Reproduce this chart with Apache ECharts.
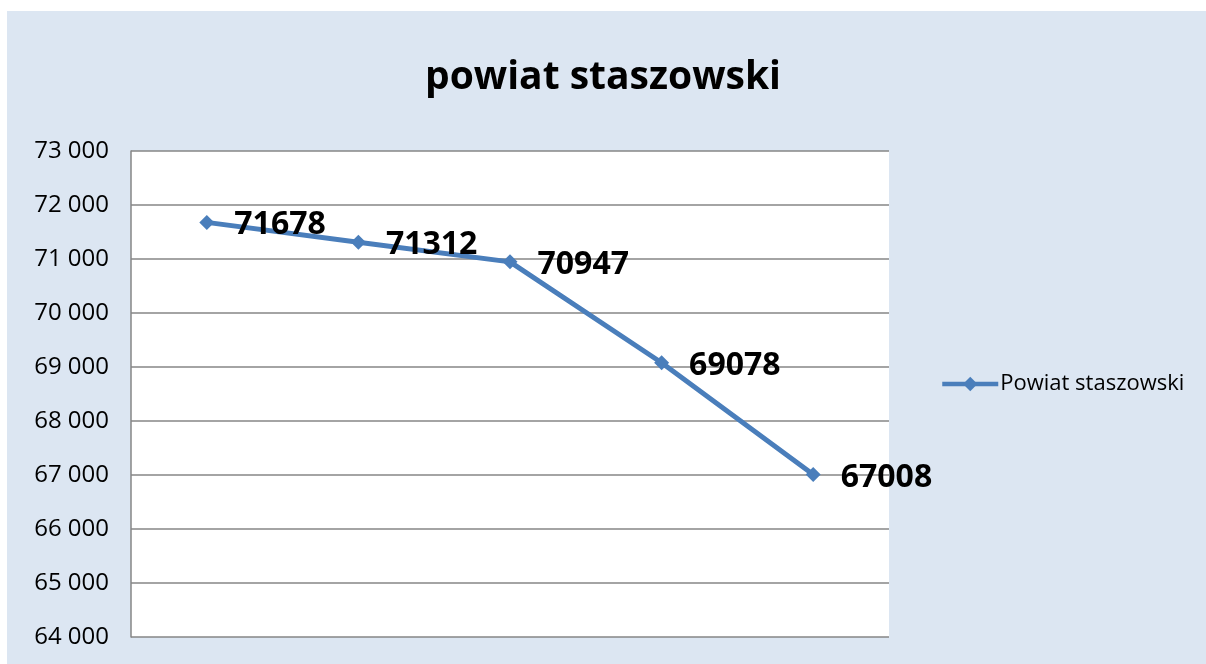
<!DOCTYPE html>
<html>
<head>
<meta charset="utf-8">
<script src="https://cdn.jsdelivr.net/npm/echarts@6/dist/echarts.min.js"></script>
<style>
  html, body { margin: 0; padding: 0; background: #fff; }
  #main { width: 1206px; height: 664px; }
</style>
</head>
<body>
<div id="main"></div>
<script>
// dane
var titleText = 'powiat staszowski';
var seriesName = 'Powiat staszowski';
var categories = ['1', '2', '3', '4', '5'];
var values = [71678, 71312, 70947, 69078, 67008];
var yMin = 64000, yMax = 73000, yStep = 1000;

var FONT = '"Open Sans", "Noto Sans", sans-serif';

var myChart = echarts.init(document.getElementById('main'));

var option = {
    backgroundColor: '#fff',
    animation: false,
    graphic: [{
        type: 'rect',
        z: -10,
        shape: { x: 7, y: 11, width: 1199, height: 653 },
        style: { fill: '#dce6f2' }
    }],
    title: {
        text: titleText,
        left: 'center',
        top: 53,
        textStyle: { fontFamily: FONT, fontWeight: 'bold', fontSize: 39, color: '#000' }
    },
    legend: {
        left: 935,
        top: 368,
        itemWidth: 56,
        itemHeight: 18,
        itemGap: 4,
        lineStyle: { width: 4.5 },
        textStyle: { fontFamily: FONT, fontSize: 22, color: '#000', padding: [0, 0, 0, -3] },
        data: [seriesName]
    },
    grid: {
        left: 131, top: 151, right: 317, bottom: 27,
        show: true, backgroundColor: '#fff', borderWidth: 0
    },
    xAxis: {
        type: 'category',
        data: categories,
        boundaryGap: true,
        axisLine: { show: false },
        axisTick: { show: false },
        axisLabel: { show: false }
    },
    yAxis: {
        type: 'value',
        min: yMin, max: yMax, interval: yStep,
        axisLine: { show: true, lineStyle: { color: '#868686', width: 1.5 } },
        axisTick: { show: false },
        splitLine: { lineStyle: { color: '#868686', width: 1.5 } },
        axisLabel: {
            margin: 22,
            fontFamily: FONT, fontSize: 24, color: '#000',
            formatter: function (v) {
                return String(v).replace(/\B(?=(\d{3})+(?!\d))/g, ' ');
            }
        }
    },
    series: [{
        name: seriesName,
        type: 'line',
        data: values,
        symbol: 'diamond',
        symbolSize: 15,
        lineStyle: { color: '#4a7ebb', width: 5 },
        itemStyle: { color: '#4a7ebb' },
        label: {
            show: true,
            position: 'right',
            distance: 20,
            offset: [0, 3],
            fontFamily: FONT, fontWeight: 'bold', fontSize: 32, color: '#000'
        }
    }]
};

myChart.setOption(option);
</script>
</body>
</html>
